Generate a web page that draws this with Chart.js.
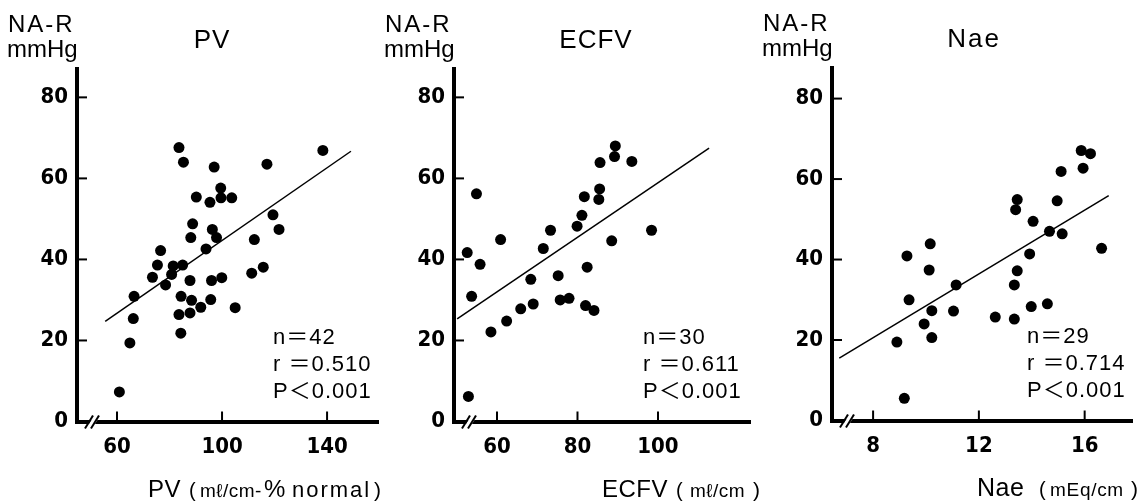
<!DOCTYPE html>
<html>
<head>
<meta charset="utf-8">
<script src="https://cdn.jsdelivr.net/npm/chart.js@4.4.1/dist/chart.umd.min.js"></script>
<style>
  html, body { margin: 0; padding: 0; background: #fff; }
  #wrap { position: relative; width: 1145px; height: 504px; }
  #wrap canvas { position: absolute; left: 0; top: 0; }
</style>
</head>
<body>
<div id="wrap">
  <canvas id="pvChart" width="1145" height="504"></canvas>
  <canvas id="ecfvChart" width="1145" height="504"></canvas>
  <canvas id="naeChart" width="1145" height="504"></canvas>
</div>
<script>
// shared y axis (NA-R, mmHg)
const yTicks = [0, 20, 40, 60, 80];
const yTickLabels = ['0', '20', '40', '60', '80'];

// PV panel
const pvTicks = [60, 100, 140];
const pvTickLabels = ['60', '100', '140'];
const pvX = [83.6, 85.3, 97.0, 117.1, 138.4, 99.5, 90.2, 95.4, 99.6, 103.7, 119.4, 121.7, 88.8, 96.3,
  88.1, 97.9, 112.3, 76.6, 93.9, 75.4, 73.5, 81.4, 85.0, 80.8, 78.5, 87.8, 96.0, 99.9, 111.3, 115.7,
  66.5, 84.4, 88.4, 91.9, 95.7, 105.0, 66.2, 83.6, 87.8, 84.3, 64.9, 60.9];
const pvY = [67.6, 64.0, 62.8, 63.5, 66.9, 57.6, 55.4, 54.1, 55.2, 55.2, 51.0, 47.4, 48.8, 47.4,
  45.4, 45.4, 44.9, 42.2, 42.6, 38.6, 35.6, 38.4, 38.6, 36.3, 33.7, 34.8, 34.8, 35.5, 36.6, 38.1,
  30.9, 30.9, 29.9, 28.2, 30.1, 28.1, 25.4, 26.4, 26.8, 21.8, 19.4, 7.3];
const pvFitX = [55.5, 149.1];
const pvFitY = [24.7, 66.7];
const pvStats = ['n\uFF1D42', 'r \uFF1D0.510', 'P\uFF1C0.001'];

// ECFV panel
const ecfvTicks = [60, 80, 100];
const ecfvTickLabels = ['60', '80', '100'];
const ecfvX = [89.4, 89.2, 85.6, 93.5, 54.9, 85.5, 85.3, 81.7, 81.1, 79.9, 73.3, 98.4, 60.9, 88.5,
  52.6, 71.5, 55.8, 82.4, 75.2, 68.4, 53.7, 75.7, 77.9, 69.0, 65.9, 82.0, 84.1, 62.4, 58.5, 52.9];
const ecfvY = [68.0, 65.4, 63.9, 64.2, 56.2, 57.4, 54.8, 55.5, 50.9, 48.2, 47.2, 47.2, 44.9, 44.6,
  41.7, 42.7, 38.8, 38.1, 36.0, 35.1, 30.9, 30.0, 30.4, 29.0, 27.8, 28.6, 27.4, 24.8, 22.1, 6.2];
const ecfvFitX = [50.1, 112.7];
const ecfvFitY = [25.3, 67.5];
const ecfvStats = ['n\uFF1D30', 'r \uFF1D0.611', 'P\uFF1C0.001'];

// Nae panel
const naeTicks = [8, 12, 16];
const naeTickLabels = ['8', '12', '16'];
const naeX = [15.87, 16.22, 15.94, 15.11, 13.45, 13.39, 14.96, 14.05, 14.67, 15.15, 10.16, 16.64, 9.28,
  13.92, 10.12, 13.45, 11.14, 13.34, 9.36, 10.22, 11.04, 13.98, 14.59, 12.62, 13.34, 9.93, 10.22, 8.90, 9.18];
const naeY = [67.1, 66.3, 62.7, 61.9, 54.9, 52.4, 54.6, 49.5, 47.0, 46.4, 43.9, 42.8, 40.9,
  41.4, 37.4, 37.2, 33.7, 33.7, 30.0, 27.3, 27.2, 28.3, 29.0, 25.7, 25.2, 24.0, 20.6, 19.5, 5.5];
const naeFitX = [6.72, 16.91];
const naeFitY = [15.5, 55.9];
const naeStats = ['n\uFF1D29', 'r \uFF1D0.714', 'P\uFF1C0.001'];

const TEXT_FONT = "'Liberation Sans', Arial, 'Noto Sans CJK JP', sans-serif";
const TICK_FONT = "'Liberation Sans Narrow', 'DejaVu Sans Condensed', 'Liberation Sans', sans-serif";

function decor(p) {
  return {
    id: 'decor',
    afterDraw(chart) {
      const { ctx, chartArea: a, scales: { x, y } } = chart;
      ctx.save();
      ctx.strokeStyle = '#000';
      ctx.fillStyle = '#000';
      ctx.lineWidth = 2;
      const seg = (x1, y1, x2, y2) => { ctx.beginPath(); ctx.moveTo(x1, y1); ctx.lineTo(x2, y2); ctx.stroke(); };

      // inward tick marks
      yTicks.forEach(v => {
        if (v === 0) return;
        const py = y.getPixelForValue(v);
        seg(a.left, py, a.left + 10, py);
      });
      p.xTicks.forEach(v => {
        const px = x.getPixelForValue(v);
        seg(px, a.bottom, px, a.bottom - 10);
      });

      // axis break //
      const bx = a.left + 17, by = a.bottom;
      ctx.fillStyle = '#fff';
      ctx.beginPath();
      ctx.moveTo(bx - 6, by + 4); ctx.lineTo(bx - 1, by - 4);
      ctx.lineTo(bx + 5, by - 4); ctx.lineTo(bx, by + 4);
      ctx.closePath(); ctx.fill();
      seg(bx - 9, by + 7, bx - 1, by - 6);
      seg(bx - 3, by + 7, bx + 5, by - 6);

      ctx.fillStyle = '#000';
      ctx.textBaseline = 'alphabetic';

      // y unit
      ctx.textAlign = 'left';
      ctx.font = '24px ' + TEXT_FONT;
      ctx.letterSpacing = '2px';
      ctx.fillText('NA-R', a.left - 69, a.top - 37);
      ctx.letterSpacing = '0px';
      ctx.fillText('mmHg', a.left - 70, a.top - 12);

      // panel title
      ctx.textAlign = 'center';
      ctx.font = '26px ' + TEXT_FONT;
      ctx.letterSpacing = p.titleLs + 'px';
      ctx.fillText(p.title, a.left + p.titleDx, a.top - 21);

      // stats
      ctx.textAlign = 'left';
      ctx.font = '22px ' + TEXT_FONT;
      ctx.letterSpacing = '1px';
      p.stats.forEach((s, i) => ctx.fillText(s, a.left + p.statsDx, a.bottom - 78 + i * 27));

      // x axis title: [text, size, letterSpacing, offset from plot left]
      p.axisTitle.forEach(([txt, size, ls, dx]) => {
        ctx.font = size + 'px ' + TEXT_FONT;
        ctx.letterSpacing = ls + 'px';
        ctx.fillText(txt, a.left + dx, a.bottom + 75);
      });
      ctx.restore();
    }
  };
}

function makePanel(id, p) {
  const points = p.xs.map((v, i) => ({ x: v, y: p.ys[i] }));
  const fit = p.fitX.map((v, i) => ({ x: v, y: p.fitY[i] }));
  return new Chart(document.getElementById(id), {
    type: 'scatter',
    data: {
      datasets: [
        { data: points, pointRadius: 5.5, pointHoverRadius: 5.5, backgroundColor: '#000', borderWidth: 0 },
        { data: fit, showLine: true, pointRadius: 0, borderColor: '#000', borderWidth: 1.5 }
      ]
    },
    options: {
      responsive: false,
      animation: false,
      events: [],
      layout: { padding: { left: p.left - 60, top: p.top, right: 1145 - p.right, bottom: 504 - p.bottom - 40 } },
      plugins: { legend: { display: false }, tooltip: { enabled: false } },
      scales: {
        x: {
          type: 'linear', min: p.xMin, max: p.xMax,
          afterFit: s => { s.height = 40; },
          afterBuildTicks: s => { s.ticks = p.xTicks.map(v => ({ value: v })); },
          grid: { display: false, drawTicks: false },
          border: { display: true, color: '#000', width: 4 },
          ticks: {
            color: '#000', padding: 13, maxRotation: 0, autoSkip: false,
            font: { family: TICK_FONT, size: 22, weight: 'bold' },
            callback: v => p.xLabels[p.xTicks.indexOf(v)]
          }
        },
        y: {
          type: 'linear', min: 0, max: p.yMax,
          afterFit: s => { s.width = 60; },
          afterBuildTicks: s => { s.ticks = yTicks.map(v => ({ value: v })); },
          grid: { display: false, drawTicks: false },
          border: { display: true, color: '#000', width: 4 },
          ticks: {
            color: '#000', padding: 9,
            font: { family: TICK_FONT, size: 22, weight: 'bold' },
            callback: v => yTickLabels[yTicks.indexOf(v)]
          }
        }
      }
    },
    plugins: [decor(p)]
  });
}

makePanel('pvChart', {
  xs: pvX, ys: pvY, fitX: pvFitX, fitY: pvFitY, xTicks: pvTicks, xLabels: pvTickLabels,
  left: 77, right: 378, top: 69, bottom: 421.5, xMin: 44.76, xMax: 159.4, yMax: 87,
  title: 'PV', titleDx: 135, titleLs: 1, stats: pvStats, statsDx: 196,
  axisTitle: [['PV', 24, 0.5, 71], ['(', 20, 0, 112], ['m\u2113/cm-', 19, 0.5, 123],
    ['%', 24, 0, 187], ['normal', 22, 2, 215], [')', 21, 0, 297]]
});

makePanel('ecfvChart', {
  xs: ecfvX, ys: ecfvY, fitX: ecfvFitX, fitY: ecfvFitY, xTicks: ecfvTicks, xLabels: ecfvTickLabels,
  left: 454, right: 750, top: 69, bottom: 421.5, xMin: 49.32, xMax: 122.86, yMax: 87,
  title: 'ECFV', titleDx: 142, titleLs: 1, stats: ecfvStats, statsDx: 189,
  axisTitle: [['ECFV', 24, 0.5, 148], ['(', 20, 0, 222], ['m\u2113/cm', 19, 0.5, 236], [')', 21, 0, 299]]
});

makePanel('naeChart', {
  xs: naeX, ys: naeY, fitX: naeFitX, fitY: naeFitY, xTicks: naeTicks, xLabels: naeTickLabels,
  left: 832, right: 1132, top: 68, bottom: 420.5, xMin: 6.446, xMax: 17.79, yMax: 87.6,
  title: 'Nae', titleDx: 142, titleLs: 2, stats: naeStats, statsDx: 195,
  axisTitle: [['Nae', 25, 0.5, 145], ['(', 20, 0, 207], ['mEq/cm', 19, 0.7, 218], [')', 21, 0, 299]]
});
</script>
</body>
</html>
